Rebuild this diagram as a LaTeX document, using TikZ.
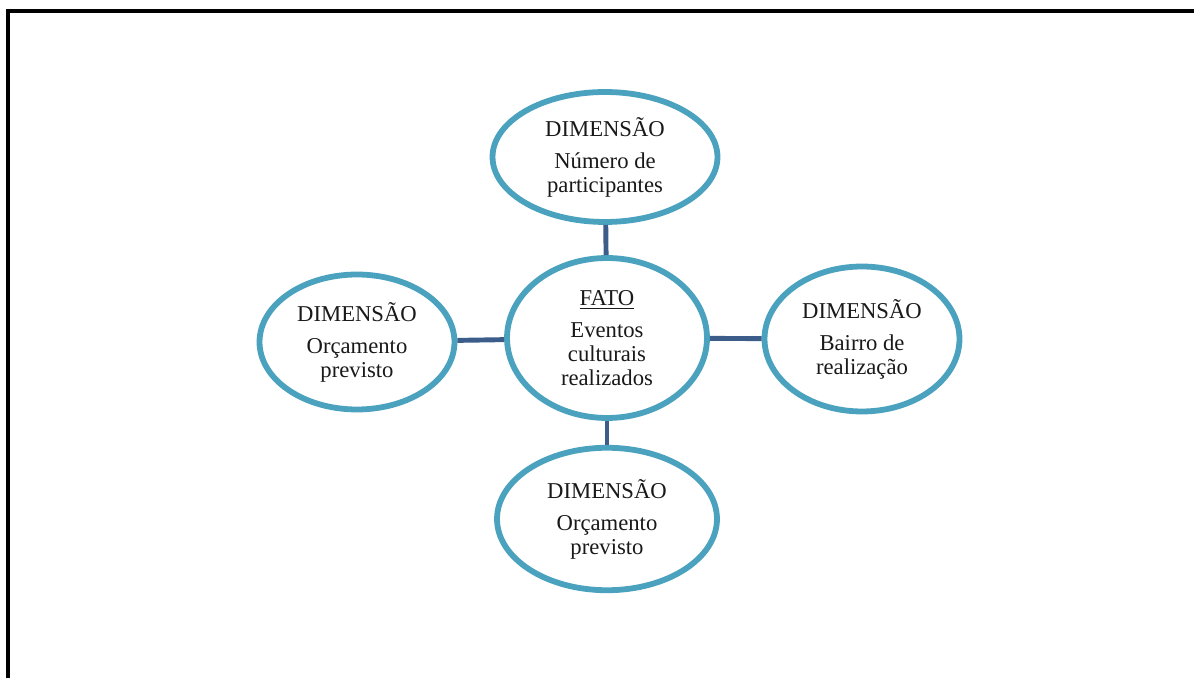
\documentclass[tikz,border=0pt]{standalone}
\usepackage{fontspec}
\setmainfont{Liberation Serif}
\usetikzlibrary{shapes.geometric}
\definecolor{contorno}{RGB}{74,162,190}
\definecolor{azulligacao}{RGB}{60,92,138}
\tikzset{
    elipse/.style={ellipse, draw=contorno, line width=3.3pt, fill=white,
        inner sep=0pt, align=center, text=black!90,
        font=\fontsize{12.9pt}{13.7pt}\selectfont},
    ligacao/.style={draw=azulligacao, line width=2.8pt}
}

\begin{document}
\begin{tikzpicture}[x=0.02cm, y=-0.02cm]
    \useasboundingbox (0, 0) rectangle (1194, 678);
    % moldura
    \draw[line width=1.8pt] (8, 678) -- (8, 11) -- (1194, 11);
    % fato central
    \node[elipse, minimum width=4cm, minimum height=3.2cm] (fato) at (607, 338)
        {\underline{FATO}\\[4.5pt]Eventos\\culturais\\realizados};
    % dimensoes
    \node[elipse, minimum width=4.5cm, minimum height=2.6cm] (topo) at (605, 157)
        {DIMENSÃO\\[4.5pt]Número de\\participantes};
    \node[elipse, minimum width=3.9cm, minimum height=2.7cm] (esquerda) at (357, 342)
        {DIMENSÃO\\[4.5pt]Orçamento\\previsto};
    \node[elipse, minimum width=3.9cm, minimum height=2.9cm] (direita) at (862, 339)
        {DIMENSÃO\\[4.5pt]Bairro de\\realização};
    \node[elipse, minimum width=4.4cm, minimum height=2.85cm] (baixo) at (607, 519)
        {DIMENSÃO\\[4.5pt]Orçamento\\previsto};
    % ligacoes
    \draw[ligacao] (topo) -- (fato);
    \draw[ligacao] (esquerda) -- (fato);
    \draw[ligacao] (fato) -- (direita);
    \draw[ligacao] (fato) -- (baixo);
\end{tikzpicture}
\end{document}
